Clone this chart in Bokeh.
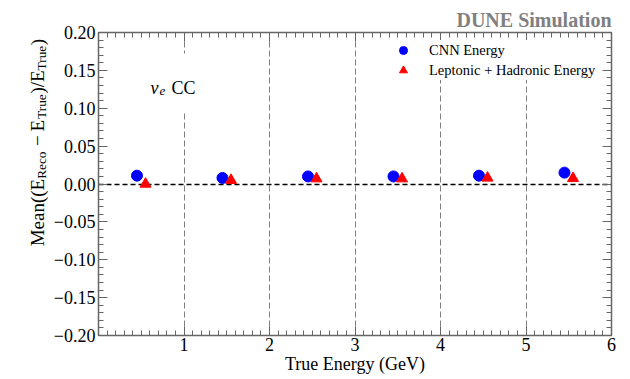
import numpy as np
from bokeh.plotting import figure
from bokeh.layouts import row
from bokeh.models import (Range1d, FixedTicker, SingleIntervalTicker, LinearAxis,
                          CustomJSTickFormatter, Label, ColumnDataSource, BoxAnnotation)
from bokeh.transform import dodge
from bokeh.embed import file_html
from bokeh.resources import INLINE

# ---- data ----
bin_centers = [0.5, 1.5, 2.5, 3.5, 4.5, 5.5]
cnn_mean = [0.011, 0.008, 0.010, 0.010, 0.011, 0.015]
lephad_mean = [0.000, 0.005, 0.007, 0.007, 0.008, 0.0075]
series_labels = ["CNN Energy", "Leptonic + Hadronic Energy"]
x_major = [1, 2, 3, 4, 5, 6]
x_minor = [round(v, 1) for v in np.arange(0.1, 6.0, 0.1) if abs(v - round(v)) > 1e-6]
vlines = [1, 2, 3, 4, 5]

FONT = "Liberation Serif"
AX = "#666666"

src = ColumnDataSource(dict(x=bin_centers, cnn=cnn_mean, lh=lephad_mean))

# ---- left strip holding the y-axis label ----
LW = 50
p0 = figure(width=LW, height=379, output_backend="svg", toolbar_location=None,
            x_axis_type=None, y_axis_type=None, x_range=Range1d(0, 1), y_range=Range1d(0, 1))
p0.min_border = 0
p0.outline_line_color = None
p0.grid.visible = False

def lab(fig, text, x, y, size, **kw):
    l = Label(text=text, x=x, y=y, x_units="screen", y_units="screen",
              text_font=FONT, text_font_size=size, text_color=kw.pop("color", "black"),
              text_baseline="alphabetic", **kw)
    fig.add_layout(l)
    return l

ang = np.pi / 2
bx = 37
pieces = [("Mean((E", 0, "19px", 89.2), ("Reco", 4, "13.3px", 156.7),
          ("\u2212", 0, "19px", 189.5), ("E", 0, "19px", 204.0), ("True", 4, "13.3px", 216.6),
          (")/E", 0, "19px", 241.9), ("True", 4, "13.3px", 265.1),
          (")", 0, "19px", 290.2)]
for t, dx, fs, yy in pieces:
    lab(p0, t, bx + dx, yy, fs, angle=ang)

# ---- main plot ----
p = figure(width=630 - LW, height=379, output_backend="svg", toolbar_location=None,
           x_range=Range1d(0, 6), y_range=Range1d(-0.2, 0.2))
p.min_border = 0
p.min_border_left = 97 - LW
p.min_border_right = 19
p.min_border_top = 32
p.min_border_bottom = 44
p.outline_line_color = AX
p.outline_line_width = 1.5

p.title.text = "DUNE Simulation"
p.title.align = "right"
p.title.text_font = FONT
p.title.text_font_size = "20px"
p.title.text_font_style = "bold"
p.title.text_color = "#808080"
p.title.standoff = 4

p.xgrid.ticker = FixedTicker(ticks=vlines)
p.xgrid.grid_line_color = "#808080"
p.xgrid.grid_line_dash = "6 3"
p.xgrid.grid_line_width = 1
p.ygrid.ticker = FixedTicker(ticks=[0])
p.ygrid.grid_line_color = "black"
p.ygrid.grid_line_dash = "5 3"
p.ygrid.grid_line_width = 1.3

bottom = p.below[0]
left = p.left[0]

xt = FixedTicker(ticks=x_major, minor_ticks=x_minor)
yt = SingleIntervalTicker(interval=0.05, num_minor_ticks=5)
yfmt = CustomJSTickFormatter(code="""
const v = Math.round(tick*100)/100;
return (v < 0 ? '\u2212' : '') + Math.abs(v).toFixed(2);
""")
empty = CustomJSTickFormatter(code="return '';")

top = LinearAxis(ticker=xt, formatter=empty)
right = LinearAxis(ticker=yt, formatter=empty)
p.add_layout(top, "above")
p.add_layout(right, "right")

bottom.ticker = xt
left.ticker = yt
left.formatter = yfmt

for ax in [bottom, left, top, right]:
    ax.axis_line_color = None
    ax.major_tick_line_color = AX
    ax.minor_tick_line_color = AX
    ax.major_tick_line_width = 1
    ax.minor_tick_line_width = 1
    ax.major_tick_in = 9
    ax.major_tick_out = 0
    ax.minor_tick_in = 5
    ax.minor_tick_out = 0
    ax.major_label_text_font = FONT
    ax.major_label_text_color = "black"
    ax.major_label_text_font_size = "18px"
for ax in [top, right]:
    ax.major_label_standoff = 0
    ax.major_label_text_font_size = "1px"

bottom.major_label_standoff = 2
left.major_label_standoff = 3
bottom.axis_label = "True Energy (GeV)"
bottom.axis_label_text_font = FONT
bottom.axis_label_text_font_size = "18px"
bottom.axis_label_text_font_style = "normal"
bottom.axis_label_text_color = "black"
bottom.axis_label_standoff = 0

# ---- data marks ----
p.scatter(x=dodge("x", -0.05, range=p.x_range), y="cnn", source=src, marker="circle",
          size=11, fill_color="#0000ff", line_color="#0000ff", legend_label=series_labels[0])
p.scatter(x=dodge("x", 0.05, range=p.x_range), y="lh", source=src, marker="triangle",
          size=11, fill_color="#ff0000", line_color="#ff0000", legend_label=series_labels[1])

lg = p.legend[0]
lg.location = (294, 255)
lg.margin = 0
lg.padding = 7
lg.spacing = 0
lg.glyph_width = 22
lg.glyph_height = 20
lg.label_height = 20
lg.label_standoff = 15
lg.label_text_font = FONT
lg.label_text_font_size = "14.5px"
lg.label_text_color = "black"
lg.border_line_color = None
lg.background_fill_color = "white"
lg.background_fill_alpha = 1.0

# white background box behind the nu_e CC text (screen units, frame-relative)
p.add_layout(BoxAnnotation(left=45, right=115, bottom=223, top=282,
                           left_units="screen", right_units="screen",
                           bottom_units="screen", top_units="screen",
                           fill_color="white", fill_alpha=1.0, line_color=None))
lab(p, "\u03bd", 52, 248, "18px", text_font_style="italic")
lab(p, "e", 61, 245, "13px", text_font_style="italic")
lab(p, "CC", 73, 248, "18px")

open("out.html", "w").write(file_html(row(p0, p), INLINE))
